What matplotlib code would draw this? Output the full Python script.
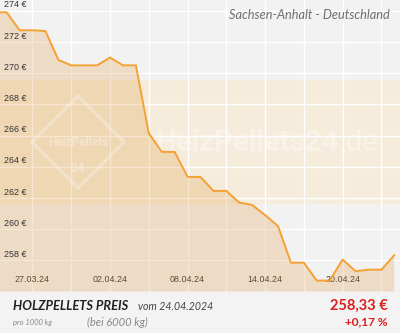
import matplotlib
matplotlib.use("Agg")
import matplotlib.pyplot as plt
import numpy as np
import pandas as pd

# daily price, 24.03.2024 - 24.04.2024
dates = pd.date_range("2024-03-24", "2024-04-24", freq="D")
prices = [273.9, 273.9, 272.75, 272.75, 272.7, 270.85, 270.5, 270.5,
          270.5, 271.0, 270.5, 270.5, 266.15, 264.95, 264.95, 263.35,
          263.35, 262.45, 262.45, 261.7, 261.55, 260.9, 260.2, 257.85,
          257.85, 256.7, 256.7, 258.05, 257.3, 257.4, 257.4, 258.33]

y_ticks = [258, 260, 262, 264, 266, 268, 270, 272, 274]
x_tick_dates = pd.date_range("2024-03-27", "2024-04-23", freq="3D")
x_tick_labels = ["27.03.24", "", "02.04.24", "", "08.04.24", "",
                 "14.04.24", "", "20.04.24", ""]

region = "Sachsen-Anhalt - Deutschland"
current_price = "258,33 €"
change = "+0,17 %"
price_date = "vom 24.04.2024"

W, H = 400, 333
plot_bottom = 291.5

fig = plt.figure(figsize=(W / 100, H / 100), dpi=100)
fig.patch.set_facecolor("#f3f3f3")
ax = fig.add_axes([0, 1 - plot_bottom / H, 1, plot_bottom / H])
ax.set_facecolor("#f2f2f2")
for s in ax.spines.values():
    s.set_visible(False)

t0 = pd.Timestamp("2024-03-27")
ax.set_xlim(t0 - pd.Timedelta(days=2.515), t0 + pd.Timedelta(days=28.44))
ax.set_ylim(256.0, 274.69)

# light band behind the middle of the chart
ax.axhspan(261.59, 269.55, color="#f5ecdc", zorder=0.2, lw=0)

ax.set_xticks(x_tick_dates)
ax.set_xticklabels(x_tick_labels)
ax.set_yticks(y_ticks)
ax.set_yticklabels([])
ax.tick_params(axis="x", length=0, pad=-12, labelsize=6.4,
               labelcolor="#333333")
ax.tick_params(axis="y", length=0)
for lab in ax.get_xticklabels():
    lab.set_fontfamily("Liberation Sans")
ax.grid(True, color="white", lw=1.0)
ax.set_axisbelow(True)

ytrans = ax.get_yaxis_transform()
for v in y_ticks:
    ax.text(0.01, v + 0.37, f"{v} €", transform=ytrans, ha="left",
            va="center", fontsize=6.4, color="#333333",
            family="Liberation Sans", zorder=3)

# watermark
wm = dict(transform=ax.transAxes, color="white", alpha=0.35, zorder=1.5)
ax.text(338 / W, 1 - 143 / plot_bottom, "HeizPellets24", ha="right",
        va="center", fontsize=21, fontweight="bold", family="Roboto", **wm)
ax.text(338 / W, 1 - 143 / plot_bottom, ".de", ha="left", va="center",
        fontsize=21, family="Roboto", **wm)
cx, cy, r = 78, 142, 46
diamond = plt.Polygon([[(cx) / W, 1 - (cy - r) / plot_bottom],
                       [(cx + r) / W, 1 - cy / plot_bottom],
                       [(cx) / W, 1 - (cy + r) / plot_bottom],
                       [(cx - r) / W, 1 - cy / plot_bottom]],
                      closed=True, fill=False, ec="white", lw=2.5,
                      alpha=0.3, joinstyle="round", transform=ax.transAxes,
                      zorder=1.5)
ax.add_patch(diamond)
ax.text(cx / W, 1 - cy / plot_bottom, "HeizPellets", ha="center",
        va="center", fontsize=8.5, fontweight="bold", family="Roboto", **wm)
ax.text(cx / W, 1 - 168 / plot_bottom, "24", ha="center", va="center",
        fontsize=9, fontweight="bold", family="Roboto", **wm)

ax.fill_between(dates, prices, 256.0, color="#e09a40", alpha=0.25, lw=0,
                zorder=1)
ax.plot(dates, prices, color="#f5a133", lw=1.4, zorder=2)

ax.text(390 / W, 1 - 15 / plot_bottom, region, transform=ax.transAxes,
        ha="right", va="center", fontsize=9.2, style="italic",
        color="#707070", family="Lato", zorder=3)

# footer
def fy(y):
    return 1 - y / H

fig.text(13 / W, fy(306), "HOLZPELLETS PREIS", ha="left", va="center",
         fontsize=9.3, fontweight="bold", style="italic", color="#222222",
         family="Lato")
fig.text(138 / W, fy(306), price_date, ha="left", va="center",
         fontsize=7.6, style="italic", color="#444444", family="Lato")
fig.text(13 / W, fy(322), "pro 1000 kg", ha="left", va="center",
         fontsize=5.5, style="italic", color="#888888", family="Lato")
fig.text(87 / W, fy(322), "(bei 6000 kg)", ha="left", va="center",
         fontsize=8, style="italic", color="#888888", family="Lato")
fig.text(388 / W, fy(306), current_price, ha="right", va="center",
         fontsize=10.5, fontweight="bold", color="#dd1c1c", family="Lato")
fig.text(388 / W, fy(322), change, ha="right", va="center",
         fontsize=8.6, fontweight="bold", color="#dd1c1c", family="Lato")

fig.savefig("out.png", dpi=100, facecolor=fig.get_facecolor())
